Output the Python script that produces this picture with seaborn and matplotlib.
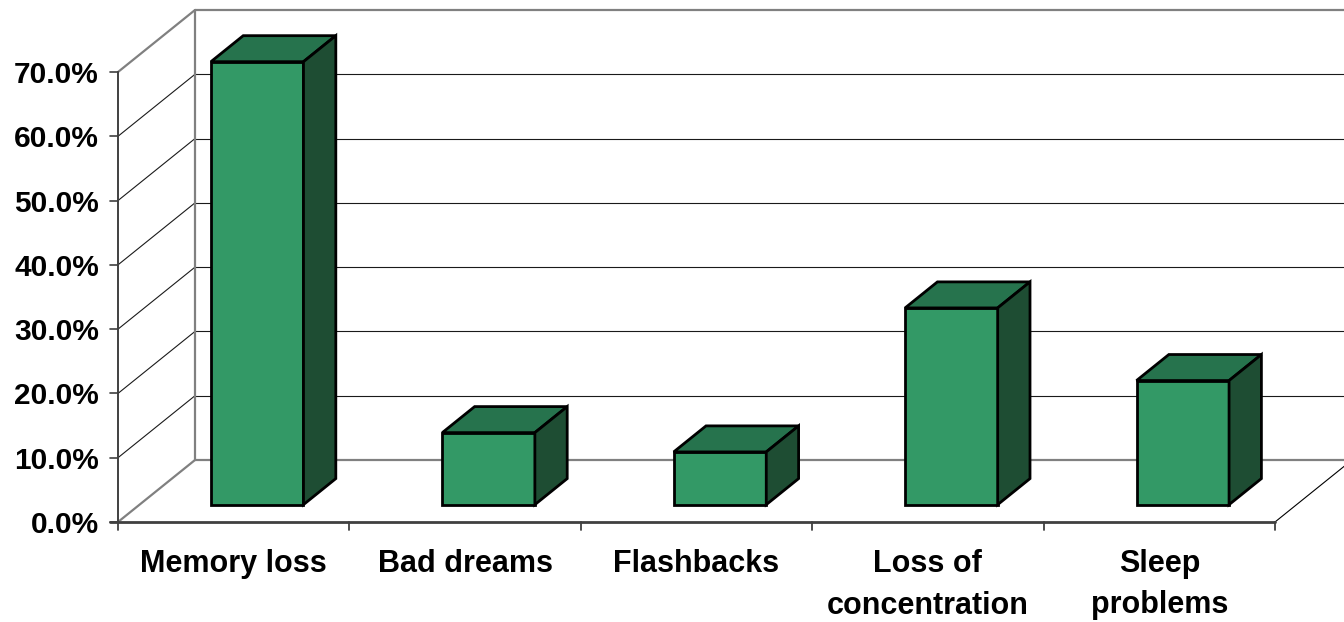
import numpy as np
import pandas as pd
import matplotlib
matplotlib.use("Agg")
import matplotlib.pyplot as plt
from matplotlib.patches import Polygon
import seaborn as sns

# ---- data ----
categories = ["Memory loss", "Bad dreams", "Flashbacks", "Loss of\nconcentration", "Sleep\nproblems"]
values = [68.9, 11.2, 8.2, 30.6, 19.3]
y_ticks = [0, 10, 20, 30, 40, 50, 60, 70]
y_tick_labels = [f"{v:.1f}%" for v in y_ticks]

sns.set_style("white")
plt.rcParams['font.family'] = ['Liberation Sans', 'DejaVu Sans']

W, H = 1344, 622
fig = plt.figure(figsize=(W / 100, H / 100), dpi=100)
ax = fig.add_axes([0, 0, 1, 1])

# pixel geometry of the 3D frame
X0, Y0 = 118, 522
SLOT = 231.4
PPU = 6.4286
DX_PX, DY_PX = 77, 62


def px2c(px):
    return (px - X0) / SLOT - 0.5


def py2v(py):
    return (Y0 - py) / PPU


dx = DX_PX / SLOT
dy = DY_PX / PPU

FRONT = "#339966"
TOP = "#26734D"
SIDE = "#1E4D33"

df = pd.DataFrame({"cat": categories, "val": values})
sns.barplot(data=df, x="cat", y="val", width=0.4, color=FRONT, saturation=1,
            edgecolor="black", linewidth=2.0, ax=ax, zorder=3)

bars = list(ax.patches)
f0x, f0y, fd = 0.305, 0.28, 0.42
for b in bars:
    b.set_x(b.get_x() + f0x * dx)
    b.set_y(b.get_y() + f0y * dy)
    b.set_joinstyle('miter')
    x, y, w, h = b.get_x(), b.get_y(), b.get_width(), b.get_height()
    top = [(x, y + h), (x + w, y + h), (x + w + fd * dx, y + h + fd * dy), (x + fd * dx, y + h + fd * dy)]
    side = [(x + w, y), (x + w + fd * dx, y + fd * dy), (x + w + fd * dx, y + h + fd * dy), (x + w, y + h)]
    ax.add_patch(Polygon(top, closed=True, fc=TOP, ec="black", lw=2.0, zorder=3, joinstyle='miter'))
    ax.add_patch(Polygon(side, closed=True, fc=SIDE, ec="black", lw=2.0, zorder=3, joinstyle='miter'))

GRAY = "#808080"
DARK = "#404040"
left_back = -0.5 + dx
right_back = 4.5 + dx
for t in y_ticks:
    edge = t in (0, 70)
    col = GRAY if edge else "#1a1a1a"
    lw = 1.6 if edge else 0.8
    ax.plot([left_back, right_back], [t + dy, t + dy], color=col, lw=lw, zorder=1, solid_capstyle='butt')
    ax.plot([-0.5, left_back], [t, t + dy], color=col, lw=lw, zorder=1)
ax.plot([left_back, left_back], [dy, 70 + dy], color=GRAY, lw=1.6, zorder=1)

# front value axis
tick_c = 8 / SLOT
ax.plot([-0.5, -0.5], [0, 70], color=DARK, lw=1.4, zorder=2)
for t in y_ticks:
    ax.plot([-0.5 - tick_c, -0.5], [t, t], color=DARK, lw=1.2, zorder=2)

# floor
ax.plot([-0.5 - tick_c, 4.5], [0, 0], color=DARK, lw=2, zorder=2)
for i in range(len(categories) + 1):
    ax.plot([i - 0.5, i - 0.5], [0, -8 / PPU], color=DARK, lw=1.3, zorder=2)
ax.plot([4.5, 4.5 + dx], [0, dy], color="black", lw=0.8, zorder=1)

lab_shift = 3 / PPU
for t, lab in zip(y_ticks, y_tick_labels):
    ax.text(px2c(99), t - lab_shift, lab, ha='right', va='center', fontsize=21.5,
            fontweight='bold', color='black')
for i, lab in enumerate(categories):
    ax.text(i, py2v(549), lab, ha='center', va='top', fontsize=22, fontweight='bold',
            color='black', linespacing=1.5)

ax.set_xlim(px2c(0), px2c(W))
ax.set_ylim(py2v(H), py2v(0))
ax.axis('off')

fig.savefig("out.png", dpi=100)
